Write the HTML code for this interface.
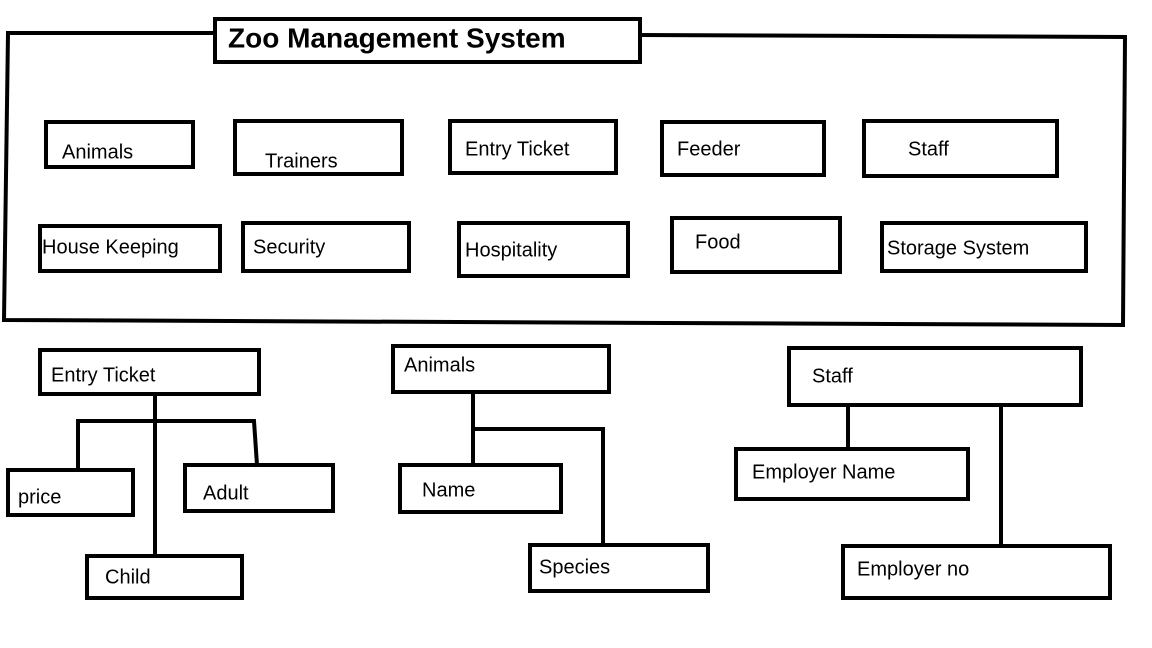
<!DOCTYPE html>
<html><head><meta charset="utf-8"><style>
html,body{margin:0;padding:0;background:#fff;}
svg{display:block;}
text{font-family:"Liberation Sans",sans-serif;font-size:20px;fill:#000;dominant-baseline:middle;}
</style></head><body>
<svg width="1152" height="648" viewBox="0 0 1152 648" xmlns="http://www.w3.org/2000/svg">
<g stroke="#000" stroke-width="4" fill="none" stroke-linecap="square">
<polyline points="215,33 8,33 4,320 1123,325 1125,37 640,35"/>
<rect x="215" y="19" width="425" height="43"/>
<rect x="46" y="122" width="147" height="45"/>
<rect x="235" y="121" width="167" height="53"/>
<rect x="450" y="121" width="166" height="52"/>
<rect x="662" y="122" width="162" height="53"/>
<rect x="864" y="121" width="193" height="55"/>
<rect x="40" y="226" width="180" height="45"/>
<rect x="243" y="223" width="166" height="48"/>
<rect x="459" y="223" width="169" height="53"/>
<rect x="672" y="218" width="168" height="54"/>
<rect x="882" y="223" width="204" height="48"/>
<rect x="40" y="350" width="219" height="44"/>
<rect x="8" y="470" width="125" height="45"/>
<rect x="185" y="465" width="148" height="46"/>
<rect x="87" y="556" width="155" height="42"/>
<polyline points="155,395 155,556"/>
<polyline points="78,470 78,421 254,421 257,465"/>
<rect x="393" y="346" width="216" height="46"/>
<rect x="400" y="465" width="161" height="47"/>
<rect x="530" y="545" width="178" height="46"/>
<polyline points="473,392 473,465"/>
<polyline points="473,429 603,429 603,545"/>
<rect x="789" y="348" width="292" height="57"/>
<rect x="736" y="449" width="232" height="50"/>
<rect x="843" y="546" width="267" height="52"/>
<polyline points="848,405 848,449"/>
<polyline points="1001,405 1001,546"/>
</g>
<text x="228" y="40" style="font-weight:bold;font-size:28px">Zoo Management System</text>
<text x="62" y="153">Animals</text>
<text x="265" y="162">Trainers</text>
<text x="465" y="150">Entry Ticket</text>
<text x="677" y="150">Feeder</text>
<text x="908" y="150">Staff</text>
<text x="42" y="248">House Keeping</text>
<text x="253" y="248">Security</text>
<text x="465" y="251">Hospitality</text>
<text x="695" y="243">Food</text>
<text x="887" y="249">Storage System</text>
<text x="51" y="376">Entry Ticket</text>
<text x="18" y="498">price</text>
<text x="203" y="494">Adult</text>
<text x="105" y="578">Child</text>
<text x="404" y="366">Animals</text>
<text x="422" y="491">Name</text>
<text x="539" y="568">Species</text>
<text x="812" y="377">Staff</text>
<text x="752" y="473">Employer Name</text>
<text x="857" y="570">Employer no</text>
</svg>
</body></html>
